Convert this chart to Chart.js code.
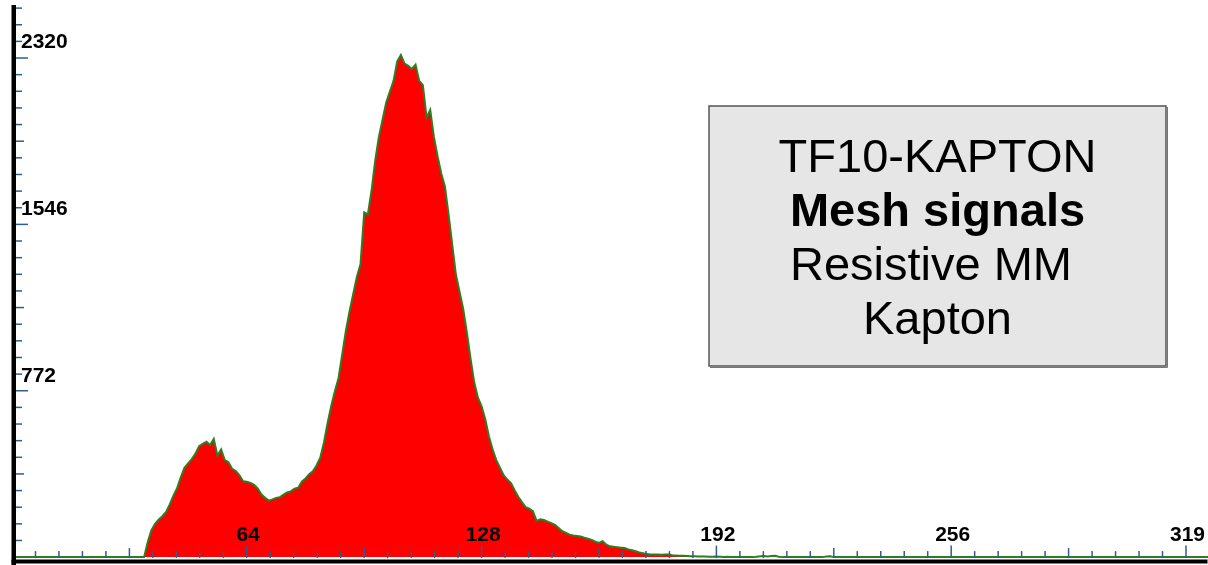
<!DOCTYPE html>
<html>
<head>
<meta charset="utf-8">
<title>TF10-KAPTON mesh spectrum</title>
<script src="https://cdn.jsdelivr.net/npm/chart.js@4.4.1/dist/chart.umd.min.js"></script>
<style>
    html, body { margin: 0; padding: 0; background: #ffffff; }
    canvas { display: block; }
</style>
</head>
<body>
<canvas id="spectrum" width="1208" height="565"></canvas>
<script>
// Histogram counts per channel, starting at firstChannel
const firstChannel = 36;
const lastChannel = 326;
const counts = [
    0, 70, 125, 155, 175, 190, 210, 245, 285, 320,
    370, 415, 435, 455, 480, 515, 525, 535, 520, 548,
    470, 500, 450, 440, 410, 400, 380, 352, 350, 344,
    335, 318, 290, 275, 262, 268, 275, 278, 290, 300,
    305, 318, 322, 350, 365, 385, 398, 425, 460, 530,
    620, 700, 770, 830, 940, 1050, 1140, 1220, 1300, 1360,
    1600, 1590, 1700, 1840, 1950, 2030, 2110, 2160, 2210, 2300,
    2330, 2290, 2280, 2265, 2285, 2210, 2190, 2040, 2075, 1950,
    1860, 1780, 1720, 1590, 1450, 1310, 1230, 1150, 1040, 920,
    810, 740, 700, 640, 560, 500, 450, 415, 380, 360,
    344, 310, 280, 255, 232, 225, 212, 168, 175, 172,
    165, 158, 150, 135, 120, 112, 104, 100, 98, 96,
    90, 85, 80, 72, 66, 74, 58, 50, 48, 46,
    44, 42, 36, 32, 27, 22, 18, 14, 12, 12,
    12, 11, 12, 12, 9, 8, 6, 6, 5, 4,
    4, 3, 3, 3, 2, 2, 3, 2, 1, 2,
    1, 1, 0, 0, 1, 0, 0, 2, 4, 5,
    3, 5, 6, 2, 0, 0, 0, 0, 0, 0,
    0, 0, 0, 0, 0, 0, 3, 4, 0, 0
];

// Axis ticks and their printed labels
const xTickValues = [64, 128, 192, 256, 320];
const xTickLabels = ['64', '128', '192', '256', '319'];
const yTickValues = [772, 1546, 2320];
const yTickLabels = ['772', '1546', '2320'];

// Info box lines
const boxLines = [
    { text: 'TF10-KAPTON', bold: false },
    { text: 'Mesh signals', bold: true },
    { text: 'Resistive MM ', bold: false },
    { text: 'Kapton', bold: false }
];

const TICK_COLOR = '#2f5d8e';
const AXIS_FONT = 'bold 21px "Liberation Sans", Arial, sans-serif';

function buildPoints() {
    const pts = [];
    for (let ch = 0; ch <= lastChannel; ch++) {
        const i = ch - firstChannel;
        const v = (i >= 0 && i < counts.length) ? counts[i] : 0;
        pts.push({ x: ch, y: v });
    }
    return pts;
}

// Draws the MCA style axes: heavy black lines, blue minor/major ticks, bold labels
const axesPlugin = {
    id: 'mcaAxes',
    afterDatasetsDraw(chart) {
        const ctx = chart.ctx;
        const xs = chart.scales.x;
        const ys = chart.scales.y;
        const zeroY = ys.getPixelForValue(0);
        const axisX = 14;
        const axisY = 561.5;

        ctx.save();

        // black axis bars
        ctx.fillStyle = '#000000';
        ctx.fillRect(axisX - 2.5, 5, 4.5, 560);
        ctx.fillRect(axisX - 2.5, axisY - 2, chart.width - axisX + 2, 4);

        ctx.strokeStyle = TICK_COLOR;
        ctx.lineWidth = 1.5;

        // x ticks: ten divisions between major ticks, longer one at the half
        const xStep = (xTickValues[1] - xTickValues[0]) / 10;
        for (let k = 1; k * xStep <= xs.max; k++) {
            if (k % 10 === 0) continue;
            const px = xs.getPixelForValue(k * xStep);
            const len = (k % 5 === 0) ? 10 : 7;
            ctx.beginPath();
            ctx.moveTo(px, zeroY + 1);
            ctx.lineTo(px, zeroY + 1 - len);
            ctx.stroke();
        }
        xTickValues.forEach(v => {
            const px = xs.getPixelForValue(v);
            ctx.beginPath();
            ctx.moveTo(px, zeroY + 1);
            ctx.lineTo(px, zeroY + 1 - 12.5);
            ctx.stroke();
        });

        // y ticks
        const yStep = yTickValues[0] / 10;
        for (let k = 1; k * yStep <= ys.max; k++) {
            const py = ys.getPixelForValue(k * yStep);
            let len = 6;
            if (k % 10 === 0) len = 12;
            else if (k % 5 === 0) len = 8;
            ctx.beginPath();
            ctx.moveTo(axisX + 2, py);
            ctx.lineTo(axisX + 2 + len, py);
            ctx.stroke();
        }

        // labels
        ctx.fillStyle = '#000000';
        ctx.font = AXIS_FONT;
        ctx.textAlign = 'center';
        ctx.textBaseline = 'alphabetic';
        xTickValues.forEach((v, i) => {
            const px = xs.getPixelForValue(v) + 1.5;
            ctx.fillText(xTickLabels[i], px, zeroY - 16);
        });

        ctx.textAlign = 'left';
        ctx.textBaseline = 'middle';
        yTickValues.forEach((v, i) => {
            const py = ys.getPixelForValue(v) - 14.5;
            ctx.fillText(yTickLabels[i], 21, py);
        });

        ctx.restore();
    },
    afterDraw(chart) {
        // grey info box in the upper right
        const ctx = chart.ctx;
        const bx = 709, by = 106, bw = 457, bh = 260;
        ctx.save();
        ctx.fillStyle = '#e6e6e6';
        ctx.fillRect(bx, by, bw, bh);
        ctx.strokeStyle = '#555555';
        ctx.lineWidth = 1.5;
        ctx.strokeRect(bx, by, bw, bh);
        ctx.strokeStyle = '#777777';
        ctx.lineWidth = 1;
        ctx.beginPath();
        ctx.moveTo(bx + 1, by + bh + 1.5);
        ctx.lineTo(bx + bw + 1.5, by + bh + 1.5);
        ctx.lineTo(bx + bw + 1.5, by + 1);
        ctx.stroke();

        ctx.fillStyle = '#000000';
        ctx.textAlign = 'center';
        ctx.textBaseline = 'alphabetic';
        const cx = bx + bw / 2;
        boxLines.forEach((line, i) => {
            ctx.font = (line.bold ? 'bold ' : '') + '47px "Liberation Sans", Arial, sans-serif';
            ctx.fillText(line.text, cx, 172 + i * 54);
        });
        ctx.restore();
    }
};

function createSpectrumChart(canvasId) {
    const ctx = document.getElementById(canvasId).getContext('2d');
    return new Chart(ctx, {
        type: 'line',
        data: {
            datasets: [{
                label: 'Mesh signals',
                data: buildPoints(),
                fill: 'origin',
                backgroundColor: '#ff0000',
                borderColor: '#2e7d22',
                borderWidth: 2,
                pointRadius: 0,
                tension: 0
            }]
        },
        options: {
            responsive: false,
            animation: false,
            layout: { padding: { left: 12, top: 5, right: 0, bottom: 4 } },
            plugins: {
                legend: { display: false },
                tooltip: { enabled: false }
            },
            scales: {
                x: { type: 'linear', min: 0, max: 326, display: false },
                y: { type: 'linear', min: -18, max: 2562, display: false }
            }
        },
        plugins: [axesPlugin]
    });
}

createSpectrumChart('spectrum');
</script>
</body>
</html>
